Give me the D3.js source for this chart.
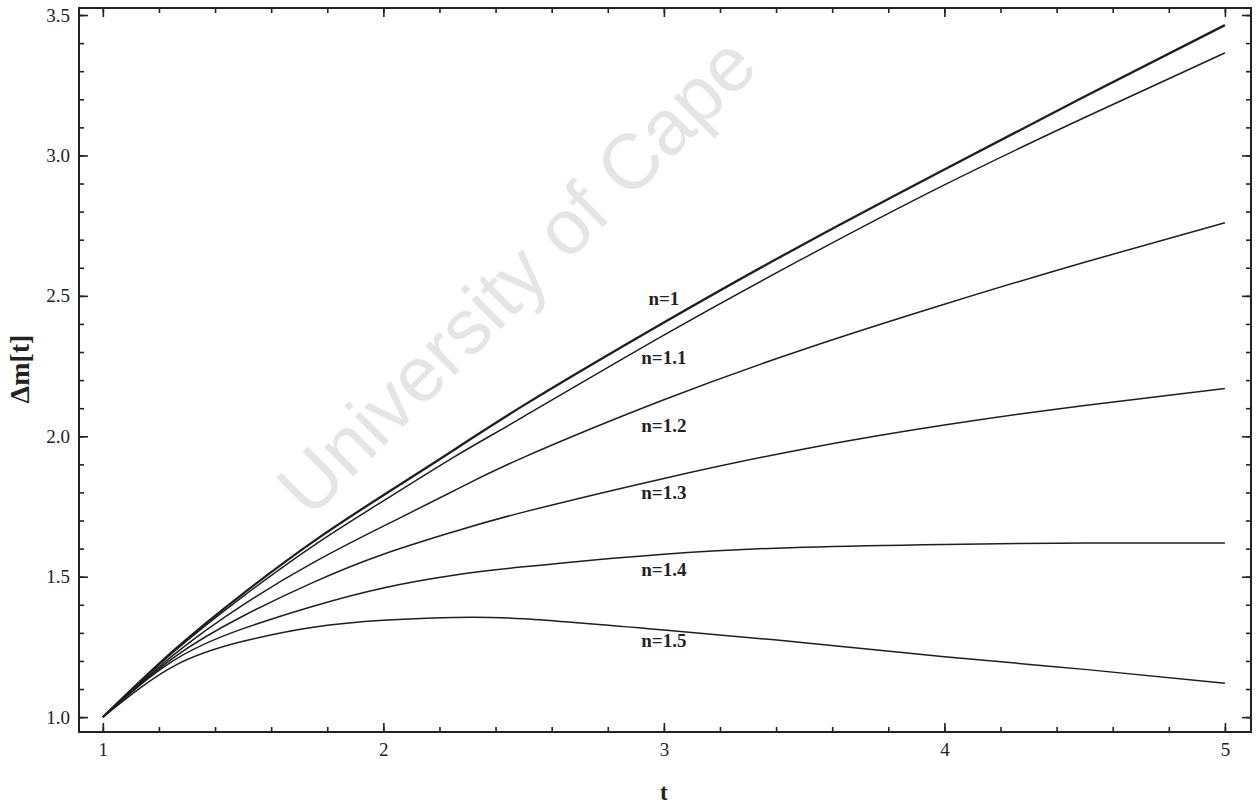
<!DOCTYPE html>
<html>
<head>
<meta charset="utf-8">
<script src="https://cdn.jsdelivr.net/npm/d3@7"></script>
<style>
  body { margin: 0; background: #fff; }
  svg { display: block; }
  .tick text { font-family: "Liberation Serif", "DejaVu Serif", serif; font-size: 19px; fill: #222; }
</style>
</head>
<body>
<svg id="chart" width="1259" height="804"></svg>
<script>
// sample points along t
var tValues = [1, 1.25, 1.5, 1.75, 2, 2.25, 2.5, 3, 3.5, 4, 4.5, 5];

// delta m[t] for each n
var n10 = [1.0, 1.235, 1.44, 1.625, 1.79, 1.95, 2.11, 2.405, 2.685, 2.95, 3.21, 3.464];
var n11 = [1.0, 1.23, 1.43, 1.61, 1.77, 1.925, 2.07, 2.36, 2.635, 2.895, 3.135, 3.365];
var n12 = [1.0, 1.22, 1.40, 1.55, 1.68, 1.805, 1.925, 2.13, 2.31, 2.47, 2.62, 2.76];
var n13 = [1.0, 1.21, 1.36, 1.48, 1.58, 1.66, 1.73, 1.85, 1.955, 2.04, 2.11, 2.17];
var n14 = [1.0, 1.20, 1.315, 1.395, 1.46, 1.505, 1.535, 1.58, 1.605, 1.615, 1.62, 1.62];
var n15 = [1.0, 1.18, 1.27, 1.32, 1.345, 1.355, 1.35, 1.31, 1.265, 1.215, 1.17, 1.121];

var seriesNames = ["n=1", "n=1.1", "n=1.2", "n=1.3", "n=1.4", "n=1.5"];
var seriesValues = [n10, n11, n12, n13, n14, n15];

// where the curve labels sit (t and delta m)
var labelT = 3;
var labelValues = [2.49, 2.28, 2.04, 1.80, 1.525, 1.275];

var xMajor = [1, 2, 3, 4, 5];
var yMajor = [1.0, 1.5, 2.0, 2.5, 3.0, 3.5];

var chart = {
  init: function(){
    var svg = d3.select("#chart");

    // frame area
    var left = 79, right = 1251, top = 8, bottom = 732;

    var x = d3.scaleLinear().domain([0.915, 5.093]).range([left, right]);
    var y = d3.scaleLinear().domain([0.947, 3.525]).range([bottom, top]);

    // minor ticks
    var xMinor = d3.range(1, 5.001, 0.2).map(function(v){ return +v.toFixed(1); });
    var yMinor = d3.range(1, 3.501, 0.1).map(function(v){ return +v.toFixed(1); });

    // watermark
    svg.append("text")
      .attr("transform", "translate(310,520) rotate(-45)")
      .style("font-family", "'Liberation Sans', Arial, sans-serif")
      .style("font-size", "78px")
      .style("fill", "#e5e5e5")
      .text("University of Cape");

    // axes, ticks pointing inward
    function ticksOnly(g){
      g.select(".domain").remove();
      g.selectAll("line").attr("stroke", "#222").attr("stroke-width", 1.6);
    }

    svg.append("g").attr("transform", "translate(0," + bottom + ")")
      .call(d3.axisBottom(x).tickValues(xMinor).tickFormat("").tickSize(-5))
      .call(ticksOnly);
    svg.append("g").attr("transform", "translate(0," + bottom + ")")
      .call(d3.axisBottom(x).tickValues(xMajor).tickFormat(d3.format("d")).tickSize(-9).tickPadding(11))
      .call(ticksOnly);

    svg.append("g").attr("transform", "translate(0," + top + ")")
      .call(d3.axisTop(x).tickValues(xMinor).tickFormat("").tickSize(-5))
      .call(ticksOnly);
    svg.append("g").attr("transform", "translate(0," + top + ")")
      .call(d3.axisTop(x).tickValues(xMajor).tickFormat("").tickSize(-9))
      .call(ticksOnly);

    svg.append("g").attr("transform", "translate(" + left + ",0)")
      .call(d3.axisLeft(y).tickValues(yMinor).tickFormat("").tickSize(-5))
      .call(ticksOnly);
    svg.append("g").attr("transform", "translate(" + left + ",0)")
      .call(d3.axisLeft(y).tickValues(yMajor).tickFormat(d3.format(".1f")).tickSize(-9).tickPadding(9))
      .call(ticksOnly);

    svg.append("g").attr("transform", "translate(" + right + ",0)")
      .call(d3.axisRight(y).tickValues(yMinor).tickFormat("").tickSize(-5))
      .call(ticksOnly);
    svg.append("g").attr("transform", "translate(" + right + ",0)")
      .call(d3.axisRight(y).tickValues(yMajor).tickFormat("").tickSize(-9))
      .call(ticksOnly);

    // frame
    svg.append("rect")
      .attr("x", left).attr("y", top)
      .attr("width", right - left).attr("height", bottom - top)
      .attr("fill", "none").attr("stroke", "#222").attr("stroke-width", 2);

    // curves
    var line = d3.line()
      .x(function(d, i){ return x(tValues[i]); })
      .y(function(d){ return y(d); })
      .curve(d3.curveNatural);

    $each(seriesValues, function(i, vals){
      svg.append("path")
        .attr("d", line(vals))
        .attr("fill", "none")
        .attr("stroke", "#1e1e1e")
        .attr("stroke-width", i === 0 ? 2.3 : 1.5);
    });

    // curve labels
    $each(seriesNames, function(i, name){
      svg.append("text")
        .attr("x", x(labelT))
        .attr("y", y(labelValues[i]))
        .attr("dy", "0.35em")
        .attr("text-anchor", "middle")
        .style("font-family", "'Liberation Serif', 'DejaVu Serif', serif")
        .style("font-weight", "bold")
        .style("font-size", "19px")
        .style("fill", "#222")
        .text(name);
    });

    // axis titles
    svg.append("text")
      .attr("x", x(3)).attr("y", 800)
      .attr("text-anchor", "middle")
      .style("font-family", "'Liberation Serif', 'DejaVu Serif', serif")
      .style("font-weight", "bold")
      .style("font-size", "23px")
      .style("fill", "#222")
      .text("t");

    svg.append("text")
      .attr("transform", "translate(29,369) rotate(-90)")
      .attr("text-anchor", "middle")
      .style("font-family", "'Liberation Serif', 'DejaVu Serif', serif")
      .style("font-weight", "bold")
      .style("font-size", "28px")
      .style("fill", "#222")
      .text("\u0394m[t]");
  }
};

function $each(arr, fn){
  arr.forEach(function(v, i){ fn(i, v); });
}

chart.init();
</script>
</body>
</html>
